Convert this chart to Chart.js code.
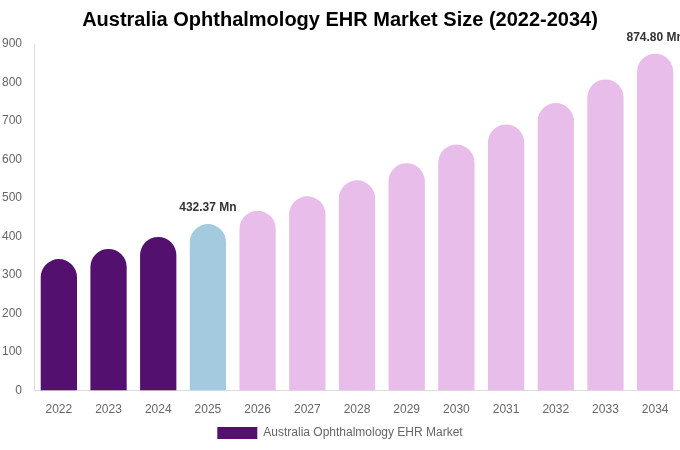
<!DOCTYPE html>
<html>
<head>
<meta charset="utf-8">
<script src="https://cdn.jsdelivr.net/npm/chart.js@4.4.1/dist/chart.umd.min.js"></script>
<style>
  html, body { margin: 0; padding: 0; background: #fff; }
  #wrap { width: 680px; height: 450px; }
</style>
</head>
<body>
<div id="wrap"><canvas id="marketChart"></canvas></div>
<script>
const years = ["2022", "2023", "2024", "2025", "2026", "2027", "2028", "2029", "2030", "2031", "2032", "2033", "2034"];
const marketSize = [341.5, 368.0, 399.0, 432.37, 467.0, 504.5, 546.0, 590.5, 639.0, 691.0, 746.5, 808.0, 874.80];
const barColors = ["#54106f", "#54106f", "#54106f", "#a4cadf", "#e8bde9", "#e8bde9", "#e8bde9", "#e8bde9", "#e8bde9", "#e8bde9", "#e8bde9", "#e8bde9", "#e8bde9"];
const labelledYears = ["2025", "2034"];

Chart.defaults.font.family = "'Liberation Sans', Arial, sans-serif";

// draws the "xxx Mn" labels above selected bars
const valueLabels = {
    id: 'valueLabels',
    afterDatasetsDraw(chart) {
        const ctx = chart.ctx;
        const meta = chart.getDatasetMeta(0);
        ctx.save();
        ctx.font = "bold 12px 'Liberation Sans', Arial, sans-serif";
        ctx.fillStyle = "#333333";
        ctx.textAlign = "center";
        ctx.textBaseline = "bottom";
        meta.data.forEach((bar, i) => {
            if (labelledYears.includes(years[i])) {
                ctx.fillText(marketSize[i].toFixed(2) + " Mn", bar.x, bar.y - 10);
            }
        });
        ctx.restore();
    }
};

new Chart(document.getElementById("marketChart"), {
    type: "bar",
    data: {
        labels: years,
        datasets: [{
            label: "Australia Ophthalmology EHR Market",
            data: marketSize,
            backgroundColor: barColors,
            borderRadius: { topLeft: 30, topRight: 30 },
            borderSkipped: false,
            barPercentage: 0.73,
            categoryPercentage: 1.0
        }]
    },
    options: {
        responsive: true,
        maintainAspectRatio: false,
        animation: false,
        layout: { padding: { left: 0, right: 0, top: 0, bottom: 1 } },
        plugins: {
            title: {
                display: true,
                text: "Australia Ophthalmology EHR Market Size (2022-2034)",
                color: "#000000",
                font: { size: 20, weight: "bold" },
                padding: { top: 8, bottom: 12 }
            },
            legend: {
                position: "bottom",
                labels: {
                    boxWidth: 40,
                    boxHeight: 12,
                    color: "#666666",
                    font: { size: 12 },
                    padding: 6
                }
            },
            tooltip: { enabled: false }
        },
        scales: {
            x: {
                grid: { display: false },
                border: { color: "#dddddd" },
                ticks: { color: "#666666", font: { size: 12 }, padding: 4 }
            },
            y: {
                min: 0,
                max: 900,
                grid: { display: false },
                border: { color: "#dddddd" },
                ticks: { stepSize: 100, color: "#666666", font: { size: 12 }, padding: 4 },
                afterFit(scale) { scale.width = 34; }
            }
        }
    },
    plugins: [valueLabels]
});
</script>
</body>
</html>
